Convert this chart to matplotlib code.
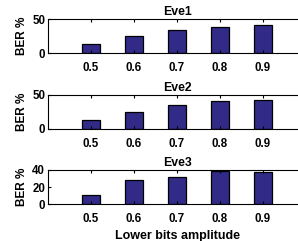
import matplotlib
matplotlib.use("Agg")
import matplotlib.pyplot as plt

plt.rcParams['font.family'] = ['Liberation Sans', 'DejaVu Sans']
plt.rcParams['font.weight'] = 'bold'

amplitude = [0.5, 0.6, 0.7, 0.8, 0.9]
ber_eve1 = [12.8, 25.0, 33.8, 38.0, 40.7]
ber_eve2 = [12.3, 24.5, 34.8, 41.0, 42.6]
ber_eve3 = [10.8, 28.0, 31.6, 38.5, 37.3]
titles = ["Eve1", "Eve2", "Eve3"]
yticks = [[0, 50], [0, 50], [0, 20, 40]]
ylims = [50, 50, 40]

BAR = '#312a87'

fig = plt.figure(figsize=(2.98, 2.41), dpi=100)
positions = [
    [0.161, 0.780, 0.866, 0.141],
    [0.161, 0.466, 0.866, 0.141],
    [0.161, 0.152, 0.866, 0.1436],
]

for i, ber in enumerate([ber_eve1, ber_eve2, ber_eve3]):
    ax = fig.add_axes(positions[i])
    ax.bar(amplitude, ber, width=0.04, color=BAR, edgecolor='black', linewidth=0.9)
    ax.set_xlim(0.4, 1.0)
    ax.set_ylim(0, ylims[i])
    ax.set_xticks(amplitude)
    ax.set_xticklabels([f"{a:.1f}" for a in amplitude])
    ax.set_yticks(yticks[i])
    ax.tick_params(direction='in', top=True, right=False, length=2.5, width=0.8,
                   labelsize=8.3, pad=2)
    ax.tick_params(axis='x', pad=6.5)
    ax.set_title(titles[i], fontsize=8.8, fontweight='bold', pad=3)
    ax.set_ylabel("BER %", fontsize=8.5, fontweight='bold', labelpad=3)
    for s in ax.spines.values():
        s.set_linewidth(0.8)
    if i == 2:
        ax.set_xlabel("Lower bits amplitude", fontsize=9, fontweight='bold', labelpad=3)

fig.savefig("out.png", dpi=100)
